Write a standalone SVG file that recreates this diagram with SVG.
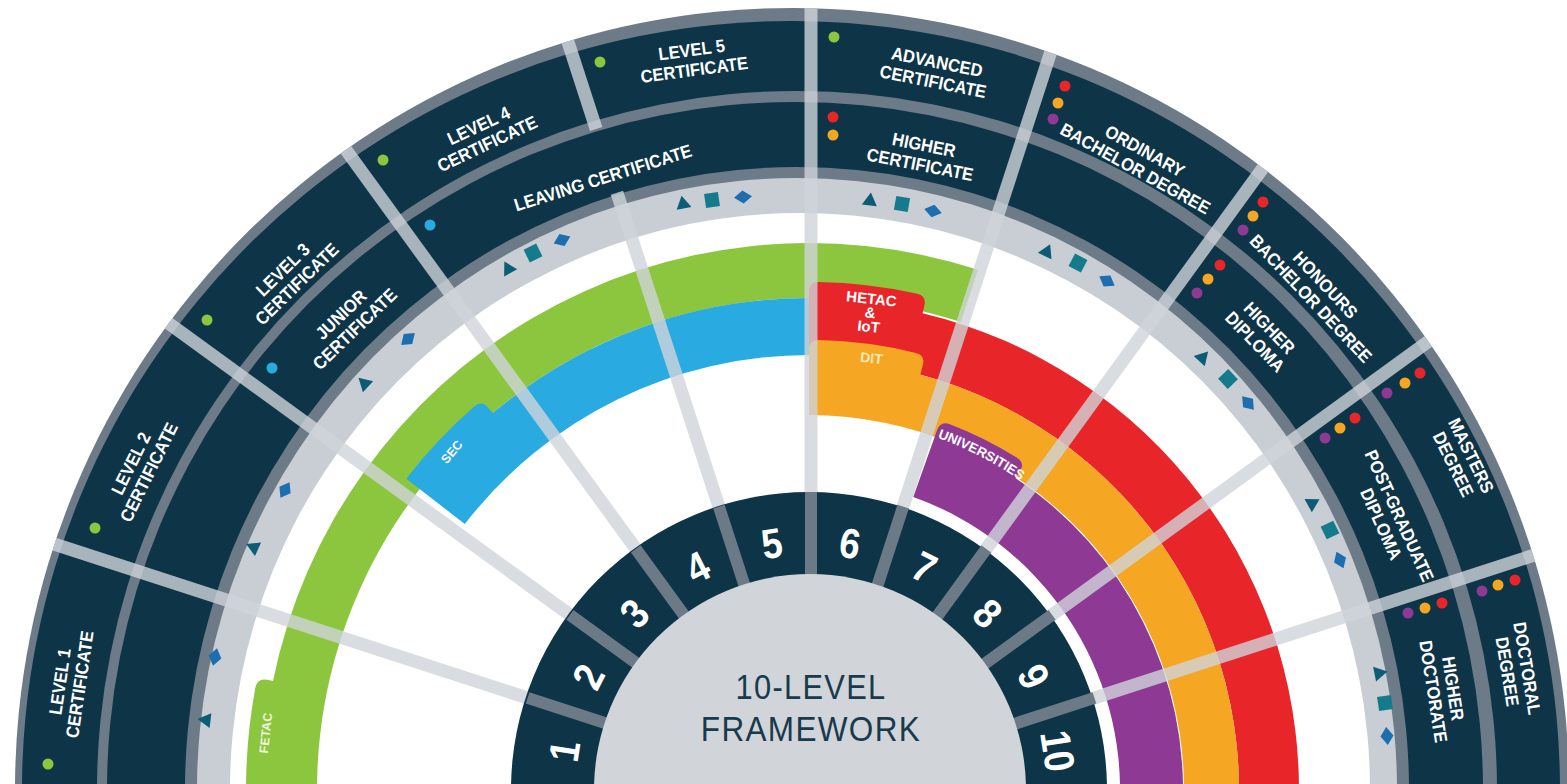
<svg xmlns="http://www.w3.org/2000/svg" width="1567" height="784" viewBox="0 0 1567 784">
<defs>
<style>
.navy{fill:#0e3447}
.gb{fill:#6c7b87}
.lbl{font-family:"Liberation Sans",Arial,sans-serif;font-weight:700;font-size:18px;fill:#ffffff;text-anchor:middle}
.num{font-family:"Liberation Sans",Arial,sans-serif;font-weight:700;font-size:42px;fill:#ffffff;text-anchor:middle;dominant-baseline:central}
.ctr{font-family:"Liberation Sans",Arial,sans-serif;font-size:35px;fill:#173a4d;text-anchor:middle;letter-spacing:1.5px}
.bl{font-family:"Liberation Sans",Arial,sans-serif;font-weight:700;fill:#ffffff;text-anchor:middle}
.spoke{stroke:#cfd4d9;stroke-opacity:0.8;stroke-width:13;fill:none}
.ndiv{stroke:#6b7a86;stroke-width:12}
.tri{fill:#0b5c74}.sq{fill:#157a8c}.dia{fill:#1c6eae}
.g{fill:#8cc63f}.c{fill:#29abe2}.r{fill:#e8262a}.o{fill:#f5a623}.p{fill:#8e3a95}
</style>
<clipPath id="outerclip"><ellipse cx="792" cy="790" rx="777" ry="782"/></clipPath>
<path id="tri" d="M0,-7.5 L7.5,5.5 L-7.5,5.5 Z"/>
<rect id="sq" x="-7" y="-7" width="14" height="14"/>
<path id="dia" d="M-9,0 L0,-6.5 L9,0 L0,6.5 Z"/>
<path id="uniArc" d="M906.1,427.8 A375,375 0 0 1 1059.9,511.3"/>
</defs>

<g id="rings">
<ellipse class="gb" cx="792" cy="790" rx="777" ry="782"/>
<ellipse class="navy" cx="791" cy="790" rx="769" ry="769"/>
<ellipse class="gb" cx="797" cy="790" rx="700" ry="699"/>
<ellipse class="navy" cx="795" cy="790" rx="688" ry="688"/>
<ellipse class="gb" cx="797" cy="790" rx="612" ry="623"/>
<ellipse fill="#c9ced4" cx="797" cy="790" rx="600" ry="612"/>
<ellipse fill="#ffffff" cx="800" cy="790" rx="570" ry="577"/>
</g>

<g id="bands">
<path id="band-fetac" class="g" d="M318.2,824.3 L247.4,829.3 A563,563 0 0 1 255.4,687.4 Q257.3,677.8 267.1,679.7 L273.0,680.9 A547,547 0 0 1 978.0,269.8 L961.0,322.1 A492,492 0 0 0 318.2,824.3 Z"/>
<path id="band-sec" class="c" d="M464.8,524.0 L406.3,478.7 A509,509 0 0 1 474.2,406.6 Q481.8,400.1 488.2,407.7 L492.7,413.1 A492,492 0 0 1 809,298 L809,355 A435,435 0 0 0 464.8,524.0 Z"/>
<path id="band-hetac" class="r" d="M809,360 L809,292 Q809,282 818.8,282.1 A508,508 0 0 1 917.2,293.7 Q926.7,295.8 924.4,305.6 L922.6,313.3 A490,490 0 0 1 1298.3,815.6 L1238.4,812.5 A430,430 0 0 0 809,360 Z"/>
<path id="band-dit" class="o" d="M809,415 L809,350 Q809,340 819.0,340.1 A450,450 0 0 1 915.8,352.9 Q925.5,355.3 922.9,365.0 L920.3,374.7 A430,430 0 0 1 1238.4,812.5 L1183.5,809.6 A375,375 0 0 0 809,415 Z"/>
<path id="band-uni" class="p" d="M913.3,497.0 L937.1,430.1 Q940.5,420.7 949.9,424.2 A392,392 0 0 1 1017.0,457.7 Q1025.4,463.1 1019.8,471.5 L1015.4,478.1 A374,374 0 0 1 1182.5,809.6 L1119.6,806.3 A311,311 0 0 0 913.3,497.0 Z"/>
</g>

<g id="connectors" clip-path="url(#outerclip)">
<path class="spoke" d="M811,790 L50.1,542.8"/>
<path class="spoke" d="M811,790 L163.8,319.8"/>
<path class="spoke" d="M811,790 L340.8,142.8"/>
<path class="spoke" d="M811,790 L616.9,192.7"/>
<path class="spoke" d="M596.2,129.0 L563.8,29.1"/>
<path class="spoke" d="M811,790 L811,-10"/>
<path class="spoke" d="M811,790 L1058.2,29.1"/>
<path class="spoke" d="M811,790 L1281.2,142.8"/>
<path class="spoke" d="M811,790 L1458.2,319.8"/>
<path class="spoke" d="M811,790 L1571.9,542.8"/>
</g>

<g id="band-labels">
<text class="bl" font-size="12.5" style="fill:#eef3dc" dominant-baseline="central" transform="translate(266,733) rotate(-84)">FETAC</text>
<text class="bl" font-size="12.5" dominant-baseline="central" transform="translate(452,452) rotate(-50)">SEC</text>
<text class="bl" font-size="15" transform="translate(871,304) rotate(6)"><tspan x="0" y="0">HETAC</tspan><tspan x="0" y="14">&amp;</tspan><tspan x="0" y="28">IoT</tspan></text>
<text class="bl" font-size="14" style="fill:#fde9b8" transform="translate(871,363) rotate(6)">DIT</text>
<text class="bl" font-size="13.5"><textPath href="#uniArc" startOffset="79.8">UNIVERSITIES</textPath></text>
</g>

<g id="level-ring">
<circle class="navy" cx="809" cy="790" r="298"/>
<path class="ndiv" d="M811,790 L527.6,697.9 M811,790 L569.9,614.8 M811,790 L635.8,548.9 M811,790 L718.9,506.6 M811,790 L811,492 M811,790 L903.1,506.6 M811,790 L986.2,548.9 M811,790 L1052.1,614.8 M811,790 L1094.4,697.9"/>
<circle cx="810" cy="790" r="216" fill="#d1d5da"/>
<text class="num" transform="translate(564.1,750.9) rotate(-81) scale(0.88,1)">1</text>
<text class="num" transform="translate(588.2,676.5) rotate(-63) scale(0.88,1)">2</text>
<text class="num" transform="translate(634.2,613.2) rotate(-45) scale(0.88,1)">3</text>
<text class="num" transform="translate(697.5,567.2) rotate(-27) scale(0.88,1)">4</text>
<text class="num" transform="translate(771.9,543.1) rotate(-9) scale(0.88,1)">5</text>
<text class="num" transform="translate(850.1,543.1) rotate(9) scale(0.88,1)">6</text>
<text class="num" transform="translate(924.5,567.2) rotate(27) scale(0.88,1)">7</text>
<text class="num" transform="translate(987.8,613.2) rotate(45) scale(0.88,1)">8</text>
<text class="num" transform="translate(1033.8,676.5) rotate(63) scale(0.88,1)">9</text>
<text class="num" transform="translate(1057.9,750.9) rotate(81) scale(0.88,1)">10</text>
</g>

<g id="center-title">
<text class="ctr" transform="translate(811,699) scale(0.88,1)">10-LEVEL</text>
<text class="ctr" transform="translate(811,741) scale(0.9,1)">FRAMEWORK</text>
</g>

<g id="symbols">
<use href="#dia" class="dia" transform="translate(215,657) rotate(-77.2)"/>
<use href="#tri" class="tri" transform="translate(205,720) rotate(-83.3)"/>
<use href="#tri" class="tri" transform="translate(253,547) rotate(-66)"/>
<use href="#dia" class="dia" transform="translate(285,490) rotate(-59.7)"/>
<use href="#tri" class="tri" transform="translate(364,383) rotate(-46.8)"/>
<use href="#dia" class="dia" transform="translate(408,339) rotate(-40.9)"/>
<use href="#tri" class="tri" transform="translate(508,268) rotate(-29.1)"/>
<use href="#sq" class="sq" transform="translate(533,253) rotate(-26.3)"/>
<use href="#dia" class="dia" transform="translate(562,240) rotate(-23.2)"/>
<use href="#tri" class="tri" transform="translate(683,203) rotate(-11.1)"/>
<use href="#sq" class="sq" transform="translate(712,200) rotate(-8.3)"/>
<use href="#dia" class="dia" transform="translate(743,197) rotate(-5.3)"/>
<use href="#tri" class="tri" transform="translate(870,200) rotate(7)"/>
<use href="#sq" class="sq" transform="translate(902,204) rotate(10.1)"/>
<use href="#dia" class="dia" transform="translate(933,211) rotate(13.1)"/>
<use href="#tri" class="tri" transform="translate(1047,251) rotate(24.8)"/>
<use href="#sq" class="sq" transform="translate(1078,263) rotate(28)"/>
<use href="#dia" class="dia" transform="translate(1107,281) rotate(31.3)"/>
<use href="#tri" class="tri" transform="translate(1203,357) rotate(43.1)"/>
<use href="#sq" class="sq" transform="translate(1228,379) rotate(46.3)"/>
<use href="#dia" class="dia" transform="translate(1248,403) rotate(49.3)"/>
<use href="#tri" class="tri" transform="translate(1313,503) rotate(60.9)"/>
<use href="#sq" class="sq" transform="translate(1330,530) rotate(64)"/>
<use href="#dia" class="dia" transform="translate(1340,560) rotate(67)"/>
<use href="#tri" class="tri" transform="translate(1380,673) rotate(78.6)"/>
<use href="#sq" class="sq" transform="translate(1385,703) rotate(81.6)"/>
<use href="#dia" class="dia" transform="translate(1387,736) rotate(84.8)"/>
</g>

<g id="lvl1-cert"><circle class="g" cx="48" cy="764" r="5.5"/><text class="lbl" transform="translate(70,683) rotate(-81.6) scale(0.92,1)"><tspan x="0" y="-4">LEVEL 1</tspan><tspan x="0" y="16">CERTIFICATE</tspan></text></g>
<g id="lvl2-cert"><circle class="g" cx="95" cy="528" r="5.5"/><text class="lbl" transform="translate(140,468) rotate(-63.7) scale(0.92,1)"><tspan x="0" y="-4">LEVEL 2</tspan><tspan x="0" y="16">CERTIFICATE</tspan></text></g>
<g id="lvl3-cert"><circle class="g" cx="207" cy="320" r="5.5"/><text class="lbl" transform="translate(290,277) rotate(-44.3) scale(0.92,1)"><tspan x="0" y="-4">LEVEL 3</tspan><tspan x="0" y="16">CERTIFICATE</tspan></text></g>
<g id="lvl4-cert"><circle class="g" cx="383" cy="160" r="5.5"/><text class="lbl" transform="translate(483,135) rotate(-25.2) scale(0.92,1)"><tspan x="0" y="-4">LEVEL 4</tspan><tspan x="0" y="16">CERTIFICATE</tspan></text></g>
<g id="lvl5-cert"><circle class="g" cx="600" cy="62" r="5.5"/><text class="lbl" transform="translate(693,60) rotate(-7.6) scale(0.92,1)"><tspan x="0" y="-4">LEVEL 5</tspan><tspan x="0" y="16">CERTIFICATE</tspan></text></g>
<g id="advanced-cert"><circle class="g" cx="834" cy="37" r="5.5"/><text class="lbl" transform="translate(935,72) rotate(11.3) scale(0.92,1)"><tspan x="0" y="-4">ADVANCED</tspan><tspan x="0" y="16">CERTIFICATE</tspan></text></g>
<g id="ordinary-bachelor"><circle class="r" cx="1065" cy="86" r="5.5"/><circle class="o" cx="1058" cy="103" r="5.5"/><circle class="p" cx="1053" cy="119" r="5.5"/><text class="lbl" transform="translate(1140,160) rotate(29) scale(0.92,1)"><tspan x="0" y="-4">ORDINARY</tspan><tspan x="0" y="16">BACHELOR DEGREE</tspan></text></g>
<g id="honours-bachelor"><circle class="r" cx="1263" cy="202" r="5.5"/><circle class="o" cx="1253" cy="216" r="5.5"/><circle class="p" cx="1243" cy="230" r="5.5"/><text class="lbl" transform="translate(1318,292) rotate(46.6) scale(0.92,1)"><tspan x="0" y="-4">HONOURS</tspan><tspan x="0" y="16">BACHELOR DEGREE</tspan></text></g>
<g id="masters"><circle class="p" cx="1387" cy="393" r="5.5"/><circle class="o" cx="1405" cy="383" r="5.5"/><circle class="r" cx="1420" cy="373" r="5.5"/><text class="lbl" transform="translate(1462,460) rotate(63.8) scale(0.92,1)"><tspan x="0" y="-4">MASTERS</tspan><tspan x="0" y="16">DEGREE</tspan></text></g>
<g id="doctoral"><circle class="p" cx="1482" cy="591" r="5.5"/><circle class="o" cx="1498" cy="585" r="5.5"/><circle class="r" cx="1515" cy="580" r="5.5"/><text class="lbl" transform="translate(1517,670) rotate(80.6) scale(0.92,1)"><tspan x="0" y="-4">DOCTORAL</tspan><tspan x="0" y="16">DEGREE</tspan></text></g>

<g id="junior-cert"><circle class="c" cx="272" cy="368" r="5.5"/><text class="lbl" transform="translate(348,322) rotate(-43.8) scale(0.92,1)"><tspan x="0" y="-4">JUNIOR</tspan><tspan x="0" y="16">CERTIFICATE</tspan></text></g>
<g id="leaving-cert"><circle class="c" cx="430" cy="225" r="5.5"/><text class="lbl" transform="translate(603,178) rotate(-17.5) scale(0.92,1)"><tspan x="0" y="6">LEAVING CERTIFICATE</tspan></text></g>
<g id="higher-cert"><circle class="r" cx="833" cy="117" r="5.5"/><circle class="o" cx="833" cy="135" r="5.5"/><text class="lbl" transform="translate(922,155) rotate(11.2) scale(0.92,1)"><tspan x="0" y="-4">HIGHER</tspan><tspan x="0" y="16">CERTIFICATE</tspan></text></g>
<g id="higher-diploma"><circle class="r" cx="1220" cy="265" r="5.5"/><circle class="o" cx="1208" cy="279" r="5.5"/><circle class="p" cx="1197" cy="293" r="5.5"/><text class="lbl" transform="translate(1262,335) rotate(45.7) scale(0.92,1)"><tspan x="0" y="-4">HIGHER</tspan><tspan x="0" y="16">DIPLOMA</tspan></text></g>
<g id="postgrad-diploma"><circle class="p" cx="1325" cy="438" r="5.5"/><circle class="o" cx="1340" cy="428" r="5.5"/><circle class="r" cx="1355" cy="418" r="5.5"/><text class="lbl" transform="translate(1390,520) rotate(65.6) scale(0.92,1)"><tspan x="0" y="-4">POST-GRADUATE</tspan><tspan x="0" y="16">DIPLOMA</tspan></text></g>
<g id="higher-doctorate"><circle class="p" cx="1408" cy="613" r="5.5"/><circle class="o" cx="1425" cy="608" r="5.5"/><circle class="r" cx="1442" cy="603" r="5.5"/><text class="lbl" transform="translate(1443,690) rotate(81.2) scale(0.92,1)"><tspan x="0" y="-4">HIGHER</tspan><tspan x="0" y="16">DOCTORATE</tspan></text></g>
</svg>
